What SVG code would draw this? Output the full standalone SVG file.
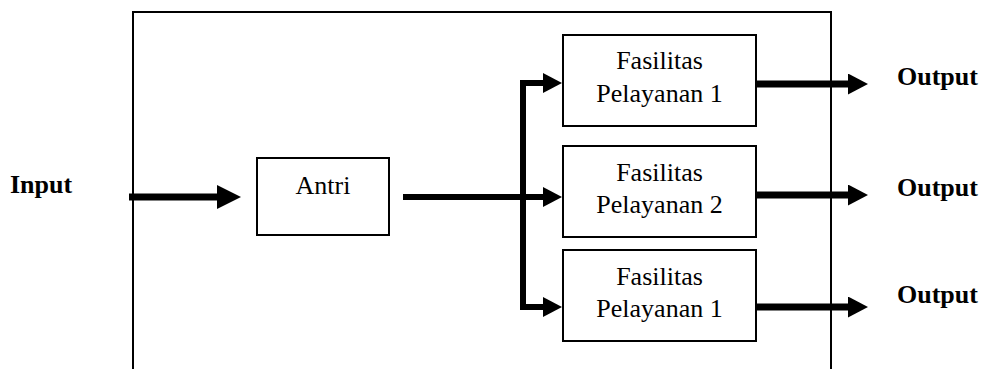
<svg xmlns="http://www.w3.org/2000/svg" width="985" height="369" viewBox="0 0 985 369">
  <style>
    .box { fill: #ffffff; stroke: #000000; stroke-width: 2; }
    .frame { fill: none; stroke: #000000; stroke-width: 2; }
    .lbl { font-family: "Liberation Serif", "Times New Roman", serif; font-size: 26px; fill: #000000; text-anchor: middle; }
    .io { font-family: "Liberation Serif", "Times New Roman", serif; font-size: 26px; font-weight: bold; fill: #000000; }
    .flow { fill: none; stroke: #000000; stroke-linejoin: miter; }
    .thick { stroke-width: 7; }
    .thin { stroke-width: 6; }
  </style>
  <defs>
    <marker id="head-lg" markerUnits="userSpaceOnUse" viewBox="0 0 24 24" refX="0" refY="12" markerWidth="24" markerHeight="24" orient="auto-start-reverse">
      <path d="M0,0 L24,12 L0,24 Z" fill="#000000"/>
    </marker>
    <marker id="head-md" markerUnits="userSpaceOnUse" viewBox="0 0 20 21" refX="0" refY="10.5" markerWidth="20" markerHeight="21" orient="auto-start-reverse">
      <path d="M0,0 L20,10.5 L0,21 Z" fill="#000000"/>
    </marker>
    <marker id="head-sm" markerUnits="userSpaceOnUse" viewBox="0 0 19 20" refX="0" refY="10" markerWidth="19" markerHeight="20" orient="auto-start-reverse">
      <path d="M0,0 L19,10 L0,20 Z" fill="#000000"/>
    </marker>
  </defs>

  <rect width="985" height="369" fill="#ffffff"/>

  <!-- system boundary (open at the bottom) -->
  <path class="frame" d="M133,369 V12 H831 V369"/>

  <!-- external labels -->
  <text class="io" x="10" y="193">Input</text>
  <text class="io" x="897" y="85">Output</text>
  <text class="io" x="897" y="196">Output</text>
  <text class="io" x="897" y="303">Output</text>

  <!-- nodes -->
  <g id="antri">
    <rect class="box" x="257" y="158" width="132" height="77"/>
    <text class="lbl" x="323" y="194">Antri</text>
  </g>
  <g id="fasilitas-1">
    <rect class="box" x="563" y="35" width="193" height="91"/>
    <text class="lbl" x="659.5" y="69">Fasilitas</text>
    <text class="lbl" x="659.5" y="102">Pelayanan 1</text>
  </g>
  <g id="fasilitas-2">
    <rect class="box" x="563" y="146" width="193" height="91"/>
    <text class="lbl" x="659.5" y="181">Fasilitas</text>
    <text class="lbl" x="659.5" y="213">Pelayanan 2</text>
  </g>
  <g id="fasilitas-3">
    <rect class="box" x="563" y="250" width="193" height="91"/>
    <text class="lbl" x="659.5" y="285">Fasilitas</text>
    <text class="lbl" x="659.5" y="317">Pelayanan 1</text>
  </g>

  <!-- connectors -->
  <g id="connectors">
    <path class="flow thick" d="M129,197 H217" marker-end="url(#head-lg)"/>
    <path class="flow thin" d="M403,197 H543" marker-end="url(#head-sm)"/>
    <path class="flow thin" d="M543,83 H523 V307 H543" marker-start="url(#head-sm)" marker-end="url(#head-sm)"/>
    <path class="flow thick" d="M756,84 H848" marker-end="url(#head-md)"/>
    <path class="flow thick" d="M756,195 H848" marker-end="url(#head-md)"/>
    <path class="flow thick" d="M756,307 H848" marker-end="url(#head-md)"/>
  </g>
</svg>
